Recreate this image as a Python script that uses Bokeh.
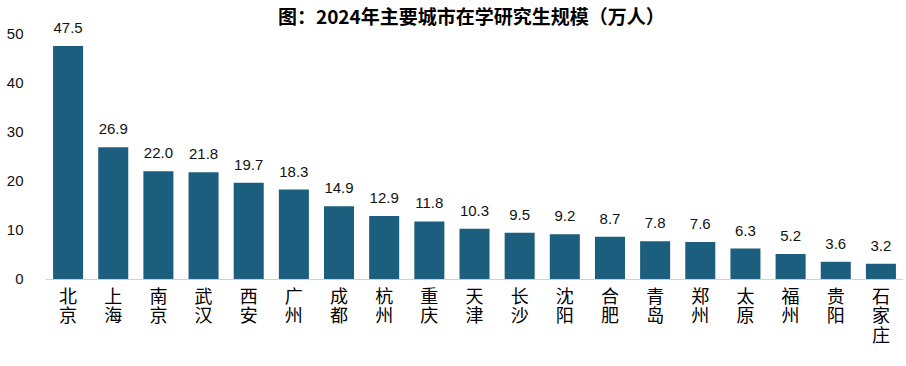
from bokeh.plotting import figure
from bokeh.models import ColumnDataSource, LabelSet, Label, FixedTicker, Range1d, Span
from bokeh.core.properties import value
from bokeh.embed import file_html
from bokeh.resources import INLINE

cities = ["北京", "上海", "南京", "武汉", "西安", "广州", "成都", "杭州", "重庆", "天津",
          "长沙", "沈阳", "合肥", "青岛", "郑州", "太原", "福州", "贵阳", "石家庄"]
values = [47.5, 26.9, 22.0, 21.8, 19.7, 18.3, 14.9, 12.9, 11.8, 10.3,
          9.5, 9.2, 8.7, 7.8, 7.6, 6.3, 5.2, 3.6, 3.2]
y_ticks = [0, 10, 20, 30, 40, 50]
title_text = "图：2024年主要城市在学研究生规模（万人）"

positions = list(range(len(cities)))

source = ColumnDataSource(data=dict(
    pos=positions,
    value=values,
    base=[0] * len(cities),
    label=[f"{v:.1f}" for v in values],
    c1=[c[0] for c in cities],
    c2=[c[1] if len(c) > 1 else "" for c in cities],
    c3=[c[2] if len(c) > 2 else "" for c in cities],
))

# frame fills the figure height; area below 0 holds the category labels
p = figure(
    x_range=Range1d(-0.5, len(cities) - 0.5),
    y_range=Range1d(-16.48, 56.75),
    width=903, height=360,
    output_backend="svg",
    toolbar_location=None,
    x_axis_location=None,
    title=None,
    min_border_left=45, min_border_right=0, min_border_top=0, min_border_bottom=0,
)

p.vbar(x="pos", top="value", bottom="base", width=0.665, source=source,
       fill_color="#1b5e7e", line_color=None)

p.add_layout(Span(location=0, dimension="width", line_color="#d0d0d0", line_width=1))

labels = LabelSet(x="pos", y="value", text="label", source=source,
                  text_align="center", text_baseline="bottom", y_offset=13,
                  text_font=value("Liberation Sans"), text_font_size=value("15px"),
                  text_color="#111111")
p.add_layout(labels)

for col, off in (("c1", -3), ("c2", -22), ("c3", -42)):
    p.add_layout(LabelSet(x="pos", y="base", text=col, source=source,
                          text_align="center", text_baseline="top", y_offset=off,
                          text_font=value("Noto Sans CJK SC"),
                          text_font_size=value("18px"), text_color="#000000"))

title = Label(x=8.93, y=56.35, text=title_text, text_align="center",
              text_baseline="top", text_font="Noto Sans CJK SC",
              text_font_size="19px", text_font_style="bold", text_color="#000000")
p.add_layout(title)

p.xgrid.visible = False
p.ygrid.visible = False
p.outline_line_color = None

p.yaxis.ticker = FixedTicker(ticks=y_ticks)
p.yaxis.axis_line_color = None
p.yaxis.major_tick_line_color = None
p.yaxis.minor_tick_line_color = None
p.yaxis.major_tick_out = 0
p.yaxis.major_tick_in = 0
p.yaxis.major_label_text_font = "Liberation Sans"
p.yaxis.major_label_text_font_size = "15px"
p.yaxis.major_label_text_color = "#111111"
p.yaxis.major_label_standoff = 22

open("out.html", "w").write(file_html(p, INLINE))
